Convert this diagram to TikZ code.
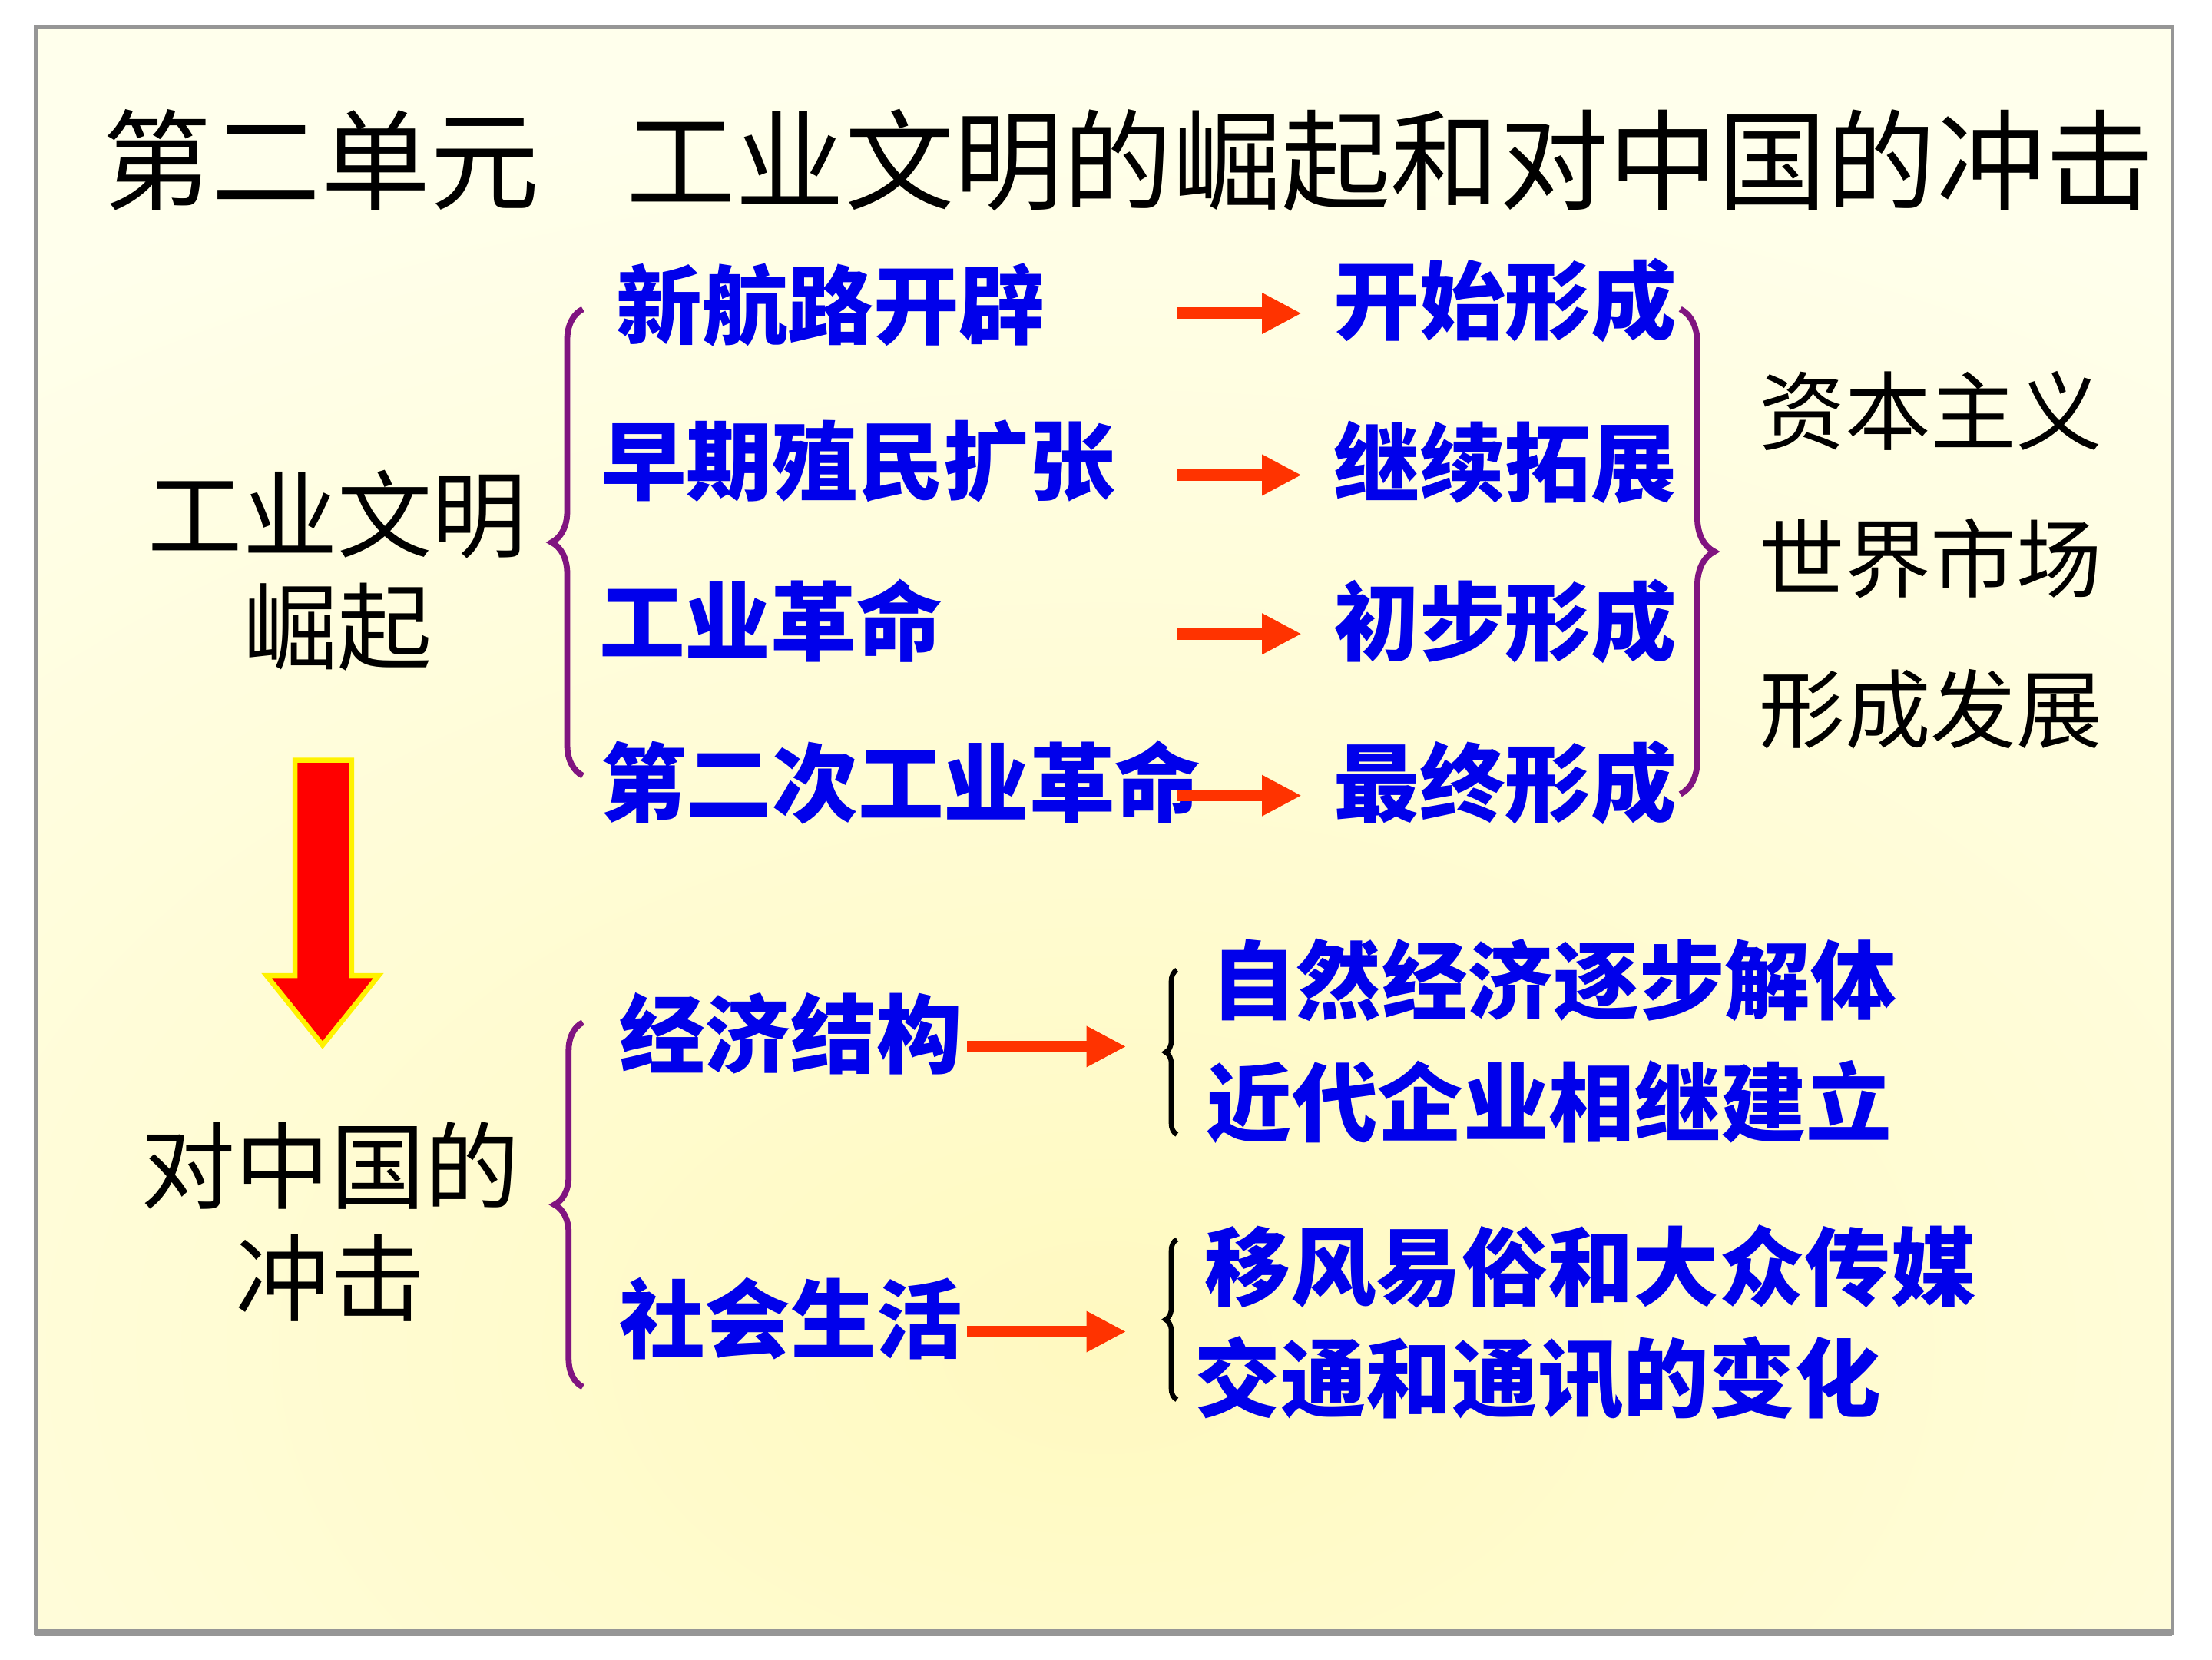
\documentclass[tikz,border=0pt]{standalone}
\usepackage{fontspec}
\usepackage{tikz}
\usetikzlibrary{arrows.meta, decorations.pathreplacing, calc}
\newfontfamily\cjk{Noto Sans CJK SC}
\definecolor{itemblue}{RGB}{0,0,235}
\definecolor{bracepurple}{RGB}{128,20,128}
\definecolor{arroworange}{RGB}{255,51,0}
\definecolor{bgcream}{RGB}{255,255,236}
\definecolor{bgyellow}{RGB}{255,249,192}
\definecolor{framegray}{RGB}{150,150,150}
\tikzset{
    item/.style={anchor=west, inner sep=0pt, text=itemblue, font=\cjk\bfseries\fontsize{17.2}{20}\selectfont},
    result/.style={anchor=west, inner sep=0pt, text=black, font=\cjk\fontsize{17.2}{20}\selectfont},
    headlabel/.style={inner sep=0pt, align=center, text=black, font=\cjk\fontsize{19}{22.5}\selectfont},
    toarrow/.style={arroworange, line width=2.3pt, -{Triangle[length=0.28cm, width=0.27cm]}},
    curly/.style={decorate, decoration={brace, amplitude=#1}, bracepurple, line width=1.2pt},
    smallcurly/.style={decorate, decoration={brace, amplitude=0.08cm}, black, line width=1pt}
}

\begin{document}
\begin{tikzpicture}
        \useasboundingbox (0,0) rectangle (15.6,11.7);
        \fill[white] (0,0) rectangle (15.6,11.7);
        % background
        \fill[bgcream] (0.25,0.19) rectangle (15.32,11.51);
        \begin{scope}
            \clip (0.25,0.19) rectangle (15.32,11.51);
            \shade[inner color=bgyellow, outer color=bgcream] (7.8,2.2) ellipse (14 and 9);
        \end{scope}
        \draw[framegray, line width=0.8pt] (0.25,0.19) rectangle (15.32,11.51);
        \draw[framegray, line width=1.6pt] (0.25,0.19) -- (15.32,0.19);

        % title
        \node[inner sep=0pt, font=\cjk\fontsize{21.9}{24}\selectfont] (title) at (7.96,10.57) {第二单元\hspace{0.8em}工业文明的崛起和对中国的冲击};

        % left labels
        \node[headlabel] (rise) at (2.38,7.675) {工业文明\\崛起};
        \node[headlabel] (impact) at (2.33,3.085) {对中国的\\冲击};
        \draw[fill=red, draw=yellow, line width=1pt, line join=miter] (2.08,6.34) -- (2.48,6.34) -- (2.48,4.82) -- (2.67,4.82) -- (2.275,4.33) -- (1.88,4.82) -- (2.08,4.82) -- cycle;

        % upper part
        \node[item] (newroute) at (4.34,9.55) {新航路开辟};
        \node[item] (colony) at (4.23,8.45) {早期殖民扩张};
        \node[item] (indrev) at (4.22,7.32) {工业革命};
        \node[item] (secrev) at (4.23,6.18) {第二次工业革命};
        \node[item] (beginform) at (9.40,9.58) {开始形成};
        \node[item] (extend) at (9.40,8.44) {继续拓展};
        \node[item] (earlyform) at (9.40,7.32) {初步形成};
        \node[item] (finalform) at (9.40,6.18) {最终形成};
        \foreach \n in {beginform, extend, earlyform, finalform}
            \draw[toarrow] ([xshift=-1.10cm, yshift=-0.09cm]\n.west) -- ([xshift=-0.22cm, yshift=-0.09cm]\n.west);

        \node[result] (capital) at (12.40,8.80) {资本主义};
        \node[result] (market) at (12.40,7.76) {世界市场};
        \node[result] (develop) at (12.40,6.70) {形成发展};

        \draw[curly=0.22cm] (4.11,6.23) -- (4.11,9.52);
        \draw[curly=0.24cm] (11.85,9.52) -- (11.85,6.10);

        % lower part
        \node[item] (economy) at (4.36,4.41) {经济结构};
        \node[item] (society) at (4.36,2.40) {社会生活};
        \draw[toarrow] ([xshift=0.03cm, yshift=-0.09cm]economy.east) -- ++(1.12,0);
        \draw[toarrow] ([xshift=0.03cm, yshift=-0.09cm]society.east) -- ++(1.12,0);
        \draw[curly=0.2cm] (4.11,1.92) -- (4.11,4.49);

        \node[item] (natural) at (8.53,4.79) {自然经济逐步解体};
        \node[item] (modern) at (8.50,3.93) {近代企业相继建立};
        \node[item] (custom) at (8.49,2.77) {移风易俗和大众传媒};
        \node[item] (traffic) at (8.42,1.98) {交通和通讯的变化};
        \draw[smallcurly] (8.30,3.70) -- (8.30,4.86);
        \draw[smallcurly] (8.30,1.83) -- (8.30,2.96);
    \end{tikzpicture}
\end{document}
